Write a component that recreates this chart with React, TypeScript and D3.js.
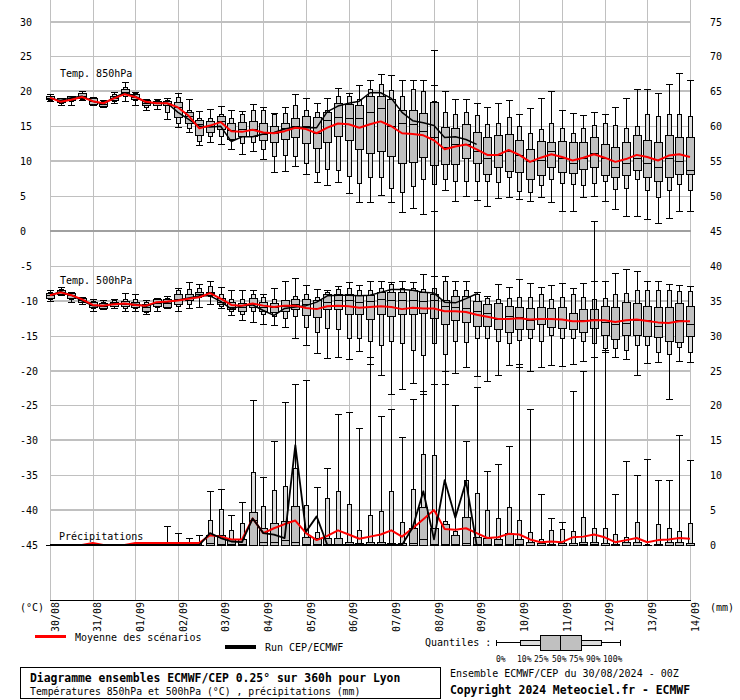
import React from 'react';
import * as d3 from 'd3';

// ---------- DATA ----------
const dayLabels = ['30/08','31/08','01/09','02/09','03/09','04/09','05/09','06/09','07/09','08/09','09/09','10/09','11/09','12/09','13/09','14/09'];
const leftTicks = [30,25,20,15,10,5,0,-5,-10,-15,-20,-25,-30,-35,-40,-45];
const rightTickLabels = [75,70,65,60,55,50,45,40,35,30,25,20,15,10,5,0];
const quantileLabels = ['0%','10%','25%','50%','75%','90%','100%'];

// quantiles per 6h step: [0%,10%,25%,50%,75%,90%,100%]
const t850Quantiles: number[][] = [
  [18.6,18.8,18.9,19.1,19.3,19.4,19.6],[18.0,18.3,18.5,18.8,19.0,19.0,19.1],[18.0,18.6,18.8,19.0,19.3,19.3,19.4],
  [18.7,18.9,19.0,19.3,19.7,19.8,20.1],[18.0,18.1,18.2,18.6,19.0,19.1,19.2],[17.7,17.8,17.9,18.2,18.5,18.6,18.8],
  [18.3,18.6,18.8,19.1,19.4,19.6,19.9],[18.6,19.3,19.6,19.9,20.3,20.7,21.3],[18.0,18.7,18.9,19.2,19.6,19.7,19.9],
  [17.4,17.8,18.0,18.4,18.8,18.9,18.9],[17.5,18.0,18.1,18.4,18.6,18.7,18.9],[16.1,17.0,18.0,18.4,18.6,18.8,19.1],
  [14.9,15.5,16.4,17.7,18.5,19.2,19.8],[14.2,14.7,15.4,16.5,17.1,17.4,18.9],[12.3,12.9,13.7,15.3,15.9,16.2,17.2],
  [12.8,13.6,14.2,15.0,15.8,16.2,17.5],[12.4,13.6,14.6,15.8,16.5,16.7,17.9],[11.7,13.1,13.2,14.5,15.4,16.2,17.4],
  [11.0,12.6,13.6,14.6,15.6,16.7,17.2],[11.4,12.7,13.6,14.6,15.8,17.4,18.2],[10.3,11.7,13.1,13.9,15.5,17.4,17.7],
  [8.4,10.8,12.8,14.1,15.1,16.7,16.9],[8.6,10.9,13.2,14.7,15.4,16.9,17.7],[9.3,10.8,13.4,15.1,16.2,18.0,19.6],
  [8.1,9.8,12.6,15.1,16.5,17.3,19.0],[7.0,8.5,11.9,14.1,16.4,17.0,18.3],[6.6,8.9,12.7,15.9,17.0,17.3,19.1],
  [7.0,8.8,13.6,16.4,18.3,19.4,20.5],[5.4,7.9,13.1,16.2,18.2,19.3,19.7],[4.1,6.9,11.7,16.2,18.1,18.9,20.9],
  [4.2,7.7,11.2,17.0,19.4,20.3,21.6],[5.2,7.7,11.4,17.6,19.3,21.0,22.5],[4.2,6.2,10.8,15.0,18.9,20.2,22.3],
  [2.7,5.6,9.7,15.4,17.3,19.3,21.7],[3.3,6.4,9.9,15.3,17.3,20.3,21.7],[2.5,7.5,10.6,14.3,16.9,20.0,21.7],
  [2.8,6.7,9.4,13.4,18.5,18.6,20.9],[5.9,7.4,9.6,12.0,14.9,17.0,20.1],[4.3,7.2,9.6,12.4,14.7,16.8,18.9],
  [5.0,7.2,10.4,12.4,15.3,17.0,18.9],[4.4,7.2,9.8,11.5,14.2,16.6,18.4],[3.6,7.2,8.1,10.5,13.5,15.3,17.8],
  [4.7,7.0,9.1,10.9,13.7,15.5,18.4],[4.8,7.7,8.6,11.5,13.9,16.4,18.7],[4.6,5.7,8.5,10.9,13.0,15.0,16.8],
  [4.3,5.6,7.5,10.0,11.8,14.0,17.6],[4.8,6.6,8.0,10.2,12.9,14.6,19.1],[4.2,7.4,9.1,11.5,12.8,15.5,20.1],
  [2.8,6.9,8.5,10.4,12.9,14.7,17.3],[2.8,6.7,8.3,9.7,12.7,14.1,16.9],[4.8,6.6,8.9,10.4,12.8,14.8,16.6],
  [5.0,6.9,9.2,11.1,13.4,15.2,17.0],[4.3,7.1,8.0,10.4,12.5,15.4,16.8],[3.2,6.0,7.7,9.2,12.0,15.2,17.7],
  [2.2,6.2,8.0,9.8,12.8,14.7,19.1],[2.1,7.4,8.7,10.4,13.7,15.0,20.3],[1.7,5.8,7.8,9.8,13.0,16.7,20.4],
  [1.1,4.9,7.1,9.2,12.7,16.5,19.8],[1.8,5.8,7.8,10.4,13.7,16.7,21.1],[2.8,6.8,8.1,10.0,13.5,16.8,22.7],
  [2.8,5.8,8.1,8.7,13.5,16.5,21.7],
];
const t850Mean = [
  19.1,18.5,18.8,19.2,18.6,18.3,19.0,19.6,19.2,18.5,
  18.3,18.3,17.7,16.5,14.7,15.1,15.6,14.3,14.2,14.5,
  14.1,14.0,14.3,14.8,14.6,14.0,14.8,15.4,15.3,14.8,
  15.3,15.7,15.0,14.0,13.9,13.7,13.0,11.7,12.1,12.4,
  11.7,10.9,10.9,11.6,10.9,9.9,10.5,11.0,10.6,10.1,
  10.5,11.0,10.5,9.9,10.3,10.9,10.6,10.1,10.8,11.0,
  10.6,
];
const t850Run = [
  19.0,18.7,19.1,19.3,18.6,18.2,19.1,19.8,19.3,18.4,
  18.3,18.3,17.0,16.0,15.0,14.9,15.0,12.8,13.5,13.5,
  13.9,14.1,14.6,14.9,14.8,14.8,17.1,17.9,18.3,18.6,
  19.8,19.8,19.0,17.0,15.8,15.5,15.1,13.4,13.5,13.1,
  12.4,
];

const t500Quantiles: number[][] = [
  [-10.0,-9.7,-9.6,-9.2,-8.9,-8.8,-8.5],[-9.2,-9.1,-9.0,-8.7,-8.4,-8.3,-8.05],[-10.2,-9.8,-9.6,-9.2,-8.9,-8.8,-8.7],
  [-10.4,-10.2,-10.2,-9.95,-9.6,-9.5,-9.5],[-11.4,-11.0,-10.9,-10.6,-10.2,-10.1,-9.8],[-11.2,-11.1,-11.0,-10.7,-10.3,-10.2,-9.95],
  [-11.05,-10.8,-10.7,-10.5,-10.2,-9.9,-9.7],[-11.4,-11.05,-10.7,-10.4,-10.1,-9.7,-8.9],[-11.4,-11.1,-10.9,-10.6,-10.2,-9.7,-9.1],
  [-11.9,-11.6,-11.4,-10.9,-10.4,-10.2,-9.95],[-11.4,-10.9,-10.8,-10.3,-9.7,-9.6,-9.6],[-11.1,-10.9,-10.9,-10.3,-9.7,-9.6,-9.3],
  [-11.5,-10.7,-10.4,-9.7,-9.0,-8.5,-8.2],[-11.1,-10.4,-9.95,-9.6,-9.1,-8.3,-7.3],[-10.9,-9.5,-9.3,-9.0,-8.8,-8.2,-7.6],
  [-10.4,-9.3,-9.2,-8.86,-8.7,-7.9,-7.2],[-11.1,-10.7,-10.4,-10.2,-9.6,-9.0,-8.05],[-12.0,-11.5,-11.2,-10.9,-10.2,-9.7,-8.5],
  [-12.7,-11.9,-11.4,-10.9,-10.3,-9.7,-8.5],[-13.0,-11.4,-10.9,-10.4,-9.6,-9.0,-8.5],[-13.3,-11.9,-11.4,-10.9,-10.2,-9.5,-9.1],
  [-13.5,-12.2,-11.6,-10.9,-10.3,-9.7,-8.2],[-13.7,-12.5,-11.4,-10.7,-9.95,-9.9,-7.2],[-15.3,-12.2,-11.2,-10.4,-9.7,-9.3,-6.8],
  [-16.4,-13.8,-12.0,-10.5,-9.8,-9.1,-7.7],[-17.5,-14.5,-12.3,-11.1,-9.95,-9.5,-8.3],[-18.2,-13.9,-11.2,-10.2,-9.0,-8.7,-8.5],
  [-18.05,-14.0,-11.2,-9.86,-9.0,-8.3,-7.9],[-18.4,-15.4,-11.9,-9.86,-9.0,-8.2,-7.3],[-17.2,-15.3,-11.9,-10.2,-9.2,-8.4,-7.8],
  [-19.0,-15.8,-12.6,-10.1,-9.2,-8.5,-7.1],[-20.7,-16.4,-11.9,-9.7,-8.8,-8.2,-7.1],[-23.3,-15.7,-12.2,-9.95,-8.8,-7.6,-7.3],
  [-22.6,-16.1,-11.95,-9.95,-8.7,-8.2,-7.1],[-21.8,-17.0,-11.95,-9.95,-8.5,-8.2,-7.3],[-23.3,-17.8,-11.7,-10.1,-8.8,-8.3,-6.1],
  [-21.9,-16.0,-12.5,-9.95,-9.1,-8.2,-6.4],[-22.0,-17.7,-13.3,-10.7,-9.95,-7.2,-6.4],[-20.4,-15.8,-12.8,-10.9,-9.3,-8.4,-7.2],
  [-19.5,-15.9,-13.1,-11.1,-9.3,-8.4,-7.1],[-20.8,-15.4,-13.6,-11.4,-10.05,-9.0,-8.7],[-21.5,-15.4,-13.6,-11.7,-10.4,-9.6,-9.3],
  [-20.7,-15.8,-14.0,-12.57,-10.3,-9.7,-7.6],[-19.2,-16.05,-14.5,-12.2,-10.8,-9.6,-8.05],[-19.5,-15.6,-14.0,-12.3,-10.9,-9.5,-6.95],
  [-20.05,-15.4,-14.0,-12.7,-11.05,-9.5,-7.4],[-19.5,-15.8,-13.4,-12.5,-10.9,-9.0,-8.05],[-19.2,-14.95,-13.7,-12.57,-11.1,-9.7,-7.7],
  [-19.3,-15.3,-13.9,-12.57,-10.9,-9.5,-7.4],[-19.1,-15.4,-14.1,-12.95,-11.7,-9.0,-8.2],[-18.7,-15.8,-14.5,-12.8,-11.2,-9.5,-7.4],
  [-18.05,-16.1,-13.9,-12.57,-11.2,-9.8,-7.1],[-17.4,-16.8,-14.95,-13.05,-10.7,-9.6,-7.1],[-18.05,-16.8,-15.5,-13.3,-10.9,-9.0,-6.05],
  [-18.4,-17.1,-14.95,-13.2,-10.2,-8.9,-5.5],[-20.6,-16.4,-14.95,-12.8,-10.3,-8.4,-5.8],[-18.9,-16.4,-15.05,-12.8,-10.8,-8.5,-7.1],
  [-18.8,-17.4,-15.2,-13.6,-10.9,-8.5,-7.1],[-24.1,-17.6,-15.8,-13.1,-10.9,-8.5,-7.6],[-18.7,-16.6,-15.9,-12.8,-10.3,-8.6,-7.8],
  [-18.8,-17.3,-15.05,-13.3,-10.8,-8.6,-7.9],
];
const t500Mean = [
  -9.2,-8.8,-9.2,-9.8,-10.6,-10.7,-10.5,-10.4,-10.6,-10.7,
  -10.2,-10.1,-9.95,-9.7,-9.5,-8.9,-9.7,-10.6,-10.7,-10.4,
  -10.7,-10.9,-10.7,-10.7,-11.05,-11.2,-10.8,-10.7,-10.8,-11.0,
  -10.9,-10.8,-10.9,-11.2,-11.0,-11.1,-11.1,-11.5,-11.5,-11.6,
  -12.0,-12.3,-12.6,-12.6,-12.5,-12.7,-12.6,-12.6,-12.7,-12.95,
  -12.95,-12.8,-12.8,-13.05,-12.8,-12.7,-12.9,-13.1,-13.2,-12.95,
  -12.95,
];
const t500Run = [
  -9.2,-8.7,-9.2,-10.0,-10.7,-10.7,-10.4,-10.5,-10.5,-10.8,
  -10.3,-10.2,-9.9,-9.6,-9.3,-9.3,-10.1,-11.2,-10.7,-10.6,
  -11.4,-12.1,-11.1,-10.9,-10.7,-10.2,-9.3,-9.2,-9.2,-9.3,
  -9.2,-8.8,-8.4,-8.4,-8.5,-8.8,-8.9,-10.2,-10.3,-9.7,
  -9.0,
];

// precipitation (mm)
const precipQuantiles: number[][] = [
  [0,0,0,0,0,0,0],[0,0,0,0,0,0,0],[0,0,0,0,0,0,0],[0,0,0,0,0,0,0],[0,0,0,0,0,0,0],[0,0,0,0,0,0,0],
  [0,0,0,0,0,0,0],[0,0,0,0,0,0,0],[0,0,0,0,0,0,0],[0,0,0,0,0,0,0],[0,0,0,0,0,0,0],
  [0,0,0,0,0.1,0.5,2.7],[0,0,0,0,0.1,0.4,1.7],[0,0,0,0,0,0.2,1.0],[0,0,0,0,0,0.3,1.4],
  [0,0,0,0.3,1.5,3.6,7.7],[0,0,0,0.2,1.4,5.2,8.0],[0,0,0,0.1,0.9,2.1,4.3],[0,0,0,0.1,0.8,3.2,6.1],
  [0,0,0,3.6,4.7,10.4,20.8],[0,0,0,0.5,2.4,5.6,9.7],[0,0,0,0.5,3.1,7.9,14.9],[0,0,0,0.7,3.4,8.4,20.5],
  [0,0,0,0.5,5.6,11.0,23.0],[0,0,0,0.2,1.2,5.8,23.7],[0,0,0,0.1,1.0,1.9,8.3],[0,0,0,0.1,1.0,6.7,11.0],
  [0,0,0,0.1,1.0,7.8,18.7],[0,0,0,0.1,0.5,5.9,19.0],[0,0,0,0,0.3,2.2,16.7],[0,0,0,0.1,0.4,4.3,27.0],
  [0,0,0,0.1,0.5,4.9,18.5],[0,0,0,0.1,0.3,7.7,19.5],[0,0,0,0,0.3,3.3,15.5],[0,0,0,0.3,2.4,8.0,20.9],
  [0,0,0,0.9,5.4,13.1,22.0],[0,0,0,0.1,2.4,12.9,71.0],[0,0,0,0.1,3.0,3.5,25.0],[0,0,0,0.1,1.4,2.0,20.0],
  [0,0,0,0.3,4.0,9.3,14.9],[0,0,0,0.1,1.2,7.4,22.7],[0,0,0,0.1,1.0,5.0,10.6],[0,0,0,0.1,0.8,3.9,11.6],
  [0,0,0,0.2,1.7,5.4,14.2],[0,0,0,0.1,0.9,3.6,26.0],[0,0,0,0,0.4,1.9,19.5],[0,0,0,0,0.3,0.8,7.3],
  [0,0,0,0,0.2,2.2,3.9],[0,0,0,0,0.3,2.3,3.3],[0,0,0,0,0.3,2.0,22.0],[0,0,0,0.1,0.5,4.0,25.0],
  [0,0,0,0.1,0.5,2.4,46.4],[0,0,0,0,0.3,2.4,28.0],[0,0,0,0,0.2,1.6,7.3],[0,0,0,0,0.4,1.1,12.0],
  [0,0,0,0,0.4,3.3,10.0],[0,0,0,0,0.05,0.2,12.3],[0,0,0,0,0.2,3.0,9.3],[0,0,0,0,0.4,2.4,9.3],
  [0,0,0,0,0.4,2.0,15.8],[0,0,0,0,0.3,3.1,12.2],
];
const precipMean = [
  0,0,0,0,0.3,0,0,0,0.3,0.3,
  0.3,0.3,0.3,0.3,0.3,1.4,1.2,0.8,0.8,3.8,
  1.7,2.4,3.0,3.5,1.7,0.7,1.3,2.1,1.5,0.9,
  1.2,1.5,2.1,1.2,2.4,3.7,5.0,2.3,2.2,2.4,
  1.7,1.0,1.1,1.6,1.5,0.8,0.4,0.5,0.4,1.1,
  1.2,1.5,1.1,0.4,0.7,1.0,0.4,0.7,0.8,1.0,
  0.9,
];
const precipRun = [
  0,0,0,0,0,0,0,0,0,0,
  0,0,0,0,0,1.7,1.0,0.5,0.4,3.8,
  1.7,1.5,1.0,14.3,1.9,4.1,0,0,0,0,
  0,0,0,0,2.5,7.7,0.8,9.3,3.9,9.1,
  0,
];

// ---------- LAYOUT ----------
const W = 740, H = 700;
const FONT = "'DejaVu Sans Mono', monospace";
const STEP_HOURS = 6;
const x = d3.scaleLinear().domain([0, 360]).range([50, 690]);
const y = d3.scaleLinear().domain([-45, 30]).range([545, 21.6]);
const yP = (mm: number) => y(-45 + mm);
const DARK = '#c0c0c0';
const LIGHT = '#dcdcdc';
const GRID = '#c0c0c0';

const px = (v: number) => Math.round(v) + 0.5;

function Boxes({ data, yf }: { data: number[][]; yf: (v: number) => number }) {
  return (
    <g shapeRendering="crispEdges">
      {data.map((q, i) => {
        const X = Math.round(x(i * STEP_HOURS));
        const [p0, p10, p25, p50, p75, p90, p100] = q.map((v) => Math.round(yf(v)));
        return (
          <g key={i}>
            <line x1={X + 0.5} x2={X + 0.5} y1={p100 + 0.5} y2={p0 + 0.5} stroke="#000" />
            <line x1={X - 3} x2={X + 4} y1={p100 + 0.5} y2={p100 + 0.5} stroke="#000" />
            <line x1={X - 3} x2={X + 4} y1={p0 + 0.5} y2={p0 + 0.5} stroke="#000" />
            <rect x={X - 2 + 0.5} y={p90 + 0.5} width={4} height={Math.max(0, p10 - p90)} fill={LIGHT} stroke="#000" />
            <rect x={X - 4 + 0.5} y={p75 + 0.5} width={8} height={Math.max(0, p25 - p75)} fill={DARK} stroke="#000" />
            <line x1={X - 4} x2={X + 5} y1={p50 + 0.5} y2={p50 + 0.5} stroke="#000" />
          </g>
        );
      })}
    </g>
  );
}

function Line({ data, yf, color, width }: { data: number[]; yf: (v: number) => number; color: string; width: number }) {
  const gen = d3.line<number>().x((_, i) => x(i * STEP_HOURS)).y((d) => yf(d));
  return <path d={gen(data) || ''} fill="none" stroke={color} strokeWidth={width} strokeLinejoin="round" />;
}

export default function App() {
  const days = dayLabels.map((l, i) => ({ l, xp: x(i * 24) }));
  return (
    <svg width={W} height={H} style={{ position: 'absolute', left: 0, top: 0, background: '#fff' }}
      fontFamily={FONT} fontSize={10}>
      <rect x={0} y={0} width={W} height={H} fill="#fff" />
      {/* grid */}
      <g shapeRendering="crispEdges">
        {days.map((d, i) => (
          <line key={i} x1={px(d.xp)} x2={px(d.xp)} y1={0} y2={600} stroke={GRID} />
        ))}
        {leftTicks.map((t) => {
          const major = t % 10 === 0;
          const yy = Math.round(y(t));
          return (
            <line key={t} x1={50} x2={691} y1={major ? yy : yy + 0.5} y2={major ? yy : yy + 0.5}
              stroke={t === 0 ? '#a0a0a0' : GRID} strokeWidth={major ? 2 : 1} />
          );
        })}
        <line x1={50} x2={691} y1={600.5} y2={600.5} stroke="#000" />
      </g>
      {/* tick labels */}
      {leftTicks.map((t, i) => (
        <g key={t}>
          <text x={20} y={y(t) + 4}>{t}</text>
          <text x={710} y={y(t) + 4}>{rightTickLabels[i]}</text>
        </g>
      ))}
      <text x={20} y={611}>(°C)</text>
      <text x={710} y={611}>(mm)</text>
      {days.map((d, i) => (
        <text key={i} transform={`translate(${d.xp + 8.5},602) rotate(-90)`} textAnchor="end">{d.l}</text>
      ))}
      {/* panel labels */}
      <text x={60} y={77}>Temp. 850hPa</text>
      <text x={60} y={284}>Temp. 500hPa</text>
      <text x={59} y={540}>Précipitations</text>

      {/* boxes */}
      <Boxes data={t850Quantiles} yf={y} />
      <Boxes data={t500Quantiles} yf={y} />
      <Boxes data={precipQuantiles} yf={yP} />

      {/* lines */}
      <Line data={t850Run} yf={y} color="#000" width={1.5} />
      <Line data={t850Mean} yf={y} color="#ff0000" width={2} />
      <Line data={t500Run} yf={y} color="#000" width={1.5} />
      <Line data={t500Mean} yf={y} color="#ff0000" width={2} />
      <Line data={precipMean} yf={yP} color="#ff0000" width={2} />
      <Line data={precipRun} yf={yP} color="#000" width={1.8} />

      {/* legend */}
      <line x1={35} x2={66} y1={636.5} y2={636.5} stroke="#ff0000" strokeWidth={3} />
      <text x={75} y={641}>Moyenne des scénarios</text>
      <line x1={225} x2={256} y1={647} y2={647} stroke="#000" strokeWidth={4} />
      <text x={265} y={651}>Run CEP/ECMWF</text>
      <text x={425} y={646}>Quantiles :</text>
      <g shapeRendering="crispEdges">
        <line x1={496} x2={620} y1={642.5} y2={642.5} stroke="#000" />
        <line x1={496.5} x2={496.5} y1={640} y2={646} stroke="#000" />
        <line x1={620.5} x2={620.5} y1={640} y2={646} stroke="#000" />
        <rect x={520.5} y={640.5} width={20} height={5} fill={LIGHT} stroke="#000" />
        <rect x={581.5} y={640.5} width={20} height={5} fill={LIGHT} stroke="#000" />
        <rect x={540.5} y={635.5} width={41} height={15} fill={DARK} stroke="#000" />
        <line x1={560.5} x2={560.5} y1={635.5} y2={650.5} stroke="#000" />
      </g>
      {quantileLabels.map((l, i) => (
        <text key={l} x={[496, 517, 534, 552, 569, 586, 603][i]} y={662} fontSize={8}>{l}</text>
      ))}
      {/* title box */}
      <rect x={20.5} y={667.5} width={420} height={31} fill="none" stroke="#000" shapeRendering="crispEdges" />
      <text x={30} y={682} fontWeight="bold" fontSize={11.4}>Diagramme ensembles ECMWF/CEP 0.25° sur 360h pour Lyon</text>
      <text x={30} y={695} fontSize={9.8}>Températures 850hPa et 500hPa (°C) , précipitations (mm)</text>
      <text x={450} y={677}>Ensemble ECMWF/CEP du 30/08/2024 - 00Z</text>
      <text x={450} y={693.5} fontWeight="bold" fontSize={11.4}>Copyright 2024 Meteociel.fr - ECMWF</text>
    </svg>
  );
}
